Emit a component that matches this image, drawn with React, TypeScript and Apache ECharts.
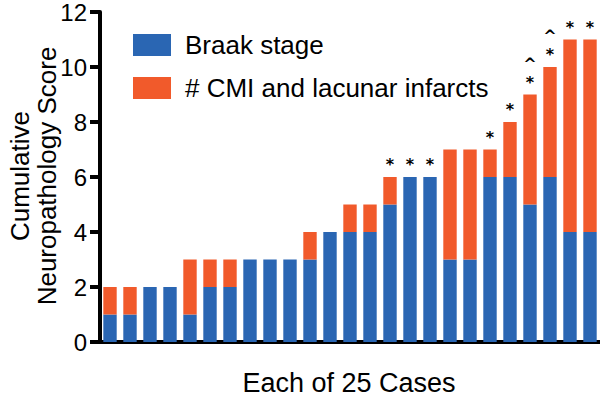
import React, { useEffect, useRef } from "react";
import * as echarts from "echarts";

const categories = [
  "1", "2", "3", "4", "5", "6", "7", "8", "9", "10", "11", "12", "13",
  "14", "15", "16", "17", "18", "19", "20", "21", "22", "23", "24", "25",
];
const braakStage = [1, 1, 2, 2, 1, 2, 2, 3, 3, 3, 3, 4, 4, 4, 5, 6, 6, 3, 3, 6, 6, 5, 6, 4, 4];
const cmiLacunar = [1, 1, 0, 0, 2, 1, 1, 0, 0, 0, 1, 0, 1, 1, 1, 0, 0, 4, 4, 1, 2, 4, 4, 7, 7];
const marks = [
  "", "", "", "", "", "", "", "", "", "", "", "", "", "",
  "*", "*", "*", "", "", "*", "*", "^\n*", "^\n*", "*", "*",
];
const yTicks = { min: 0, max: 12, interval: 2 };
const seriesNames = ["Braak stage", "# CMI and lacunar infarcts"];
const xTitle = "Each of 25 Cases";
const yTitle = "Cumulative\nNeuropathology Score";

const BLUE = "#2a66b3";
const ORANGE = "#f15a2b";
const FONT = "Liberation Sans";

export default function App() {
  const ref = useRef<HTMLDivElement>(null);
  useEffect(() => {
    if (!ref.current) return;
    const chart = echarts.init(ref.current, null, { renderer: "svg" });
    chart.setOption({
      animation: false,
      backgroundColor: "#ffffff",
      grid: { left: 100, right: 0, top: 12, bottom: 61, containLabel: false },
      legend: {
        orient: "vertical",
        left: 128,
        top: 27,
        itemWidth: 38,
        itemHeight: 22,
        itemGap: 17,
        icon: "rect",
        textStyle: {
          fontSize: 26,
          fontFamily: FONT,
          color: "#000",
          lineHeight: 22,
          padding: [0, 0, 0, 9],
        },
        data: seriesNames,
      },
      xAxis: {
        type: "category",
        data: categories,
        axisLine: { show: true, lineStyle: { color: "#000", width: 4 } },
        axisTick: { show: false },
        axisLabel: { show: false },
        splitLine: { show: false },
      },
      yAxis: {
        type: "value",
        min: yTicks.min,
        max: yTicks.max,
        interval: yTicks.interval,
        axisLine: { show: true, lineStyle: { color: "#000", width: 4 } },
        axisTick: { show: true, length: 10, lineStyle: { color: "#000", width: 4 } },
        axisLabel: {
          fontSize: 24,
          fontFamily: FONT,
          color: "#000",
          margin: 13,
          lineHeight: 20,
        },
        splitLine: { show: false },
      },
      graphic: [
        {
          type: "text",
          x: 33,
          y: 176,
          rotation: Math.PI / 2,
          style: {
            text: yTitle,
            fontSize: 26,
            fontFamily: FONT,
            lineHeight: 27,
            fill: "#000",
            align: "center",
            verticalAlign: "middle",
          },
        },
        {
          type: "text",
          x: 349,
          y: 383,
          style: {
            text: xTitle,
            fontSize: 27,
            fontFamily: FONT,
            fill: "#000",
            align: "center",
            verticalAlign: "middle",
          },
        },
      ],
      series: [
        {
          name: seriesNames[0],
          type: "bar",
          stack: "total",
          barWidth: "67%",
          itemStyle: { color: BLUE },
          data: braakStage,
        },
        {
          name: seriesNames[1],
          type: "bar",
          stack: "total",
          barWidth: "67%",
          itemStyle: { color: ORANGE },
          data: cmiLacunar.map((v, i) => ({
            value: v,
            label: {
              show: marks[i] !== "",
              position: "top",
              distance: 3,
              formatter: marks[i],
              fontSize: 16,
              fontFamily: "DejaVu Sans",
              fontWeight: "bold",
              color: "#000",
              lineHeight: 19,
            },
          })),
        },
      ],
    });
    return () => chart.dispose();
  }, []);
  return (
    <div
      ref={ref}
      style={{ position: "fixed", left: 0, top: 0, width: 600, height: 403 }}
    />
  );
}
